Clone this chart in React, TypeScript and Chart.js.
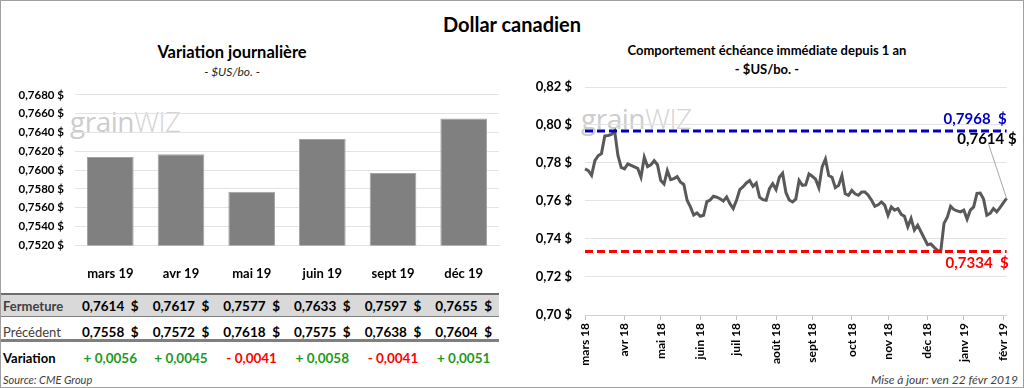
import React, { useEffect, useRef } from 'react';
import { Chart, registerables } from 'chart.js';

Chart.register(...registerables);

const FONT = 'Lato, "Noto Sans", sans-serif';

// ---- Left chart: daily variation by contract ----
const contracts = ['mars 19', 'avr 19', 'mai 19', 'juin 19', 'sept 19', 'déc 19'];
const closes = [0.7614, 0.7617, 0.7577, 0.7633, 0.7597, 0.7655];
const previous = [0.7558, 0.7572, 0.7618, 0.7575, 0.7638, 0.7604];
const barAxisMin = 0.752;
const barAxisMax = 0.768;
const barAxisStep = 0.002;

// ---- Right chart: front month over one year ----
const dailyClose = [
  0.7769, 0.7760, 0.7735, 0.7812, 0.7838, 0.7850, 0.7942, 0.7945, 0.7950, 0.7968,
  0.7840, 0.7777, 0.7769, 0.7795, 0.7788, 0.7780, 0.7772, 0.7725, 0.7830, 0.7781,
  0.7790, 0.7812, 0.7791, 0.7708, 0.7690, 0.7760, 0.7712, 0.7718, 0.7729, 0.7699,
  0.7687, 0.7604, 0.7569, 0.7526, 0.7537, 0.7520, 0.7525, 0.7597, 0.7605, 0.7625,
  0.7620, 0.7612,
  0.7600, 0.7621, 0.7586, 0.7560, 0.7604, 0.7660, 0.7675, 0.7695, 0.7708, 0.7677,
  0.7694, 0.7620, 0.7607, 0.7604, 0.7665, 0.7691, 0.7660, 0.7725, 0.7746, 0.7645,
  0.7605, 0.7595, 0.7610, 0.7708, 0.7682, 0.7685, 0.7742, 0.7730, 0.7715, 0.7670,
  0.7780, 0.7821, 0.7734, 0.7725, 0.7670, 0.7682, 0.7734, 0.7638, 0.7630, 0.7656,
  0.7638, 0.7630,
  0.7647, 0.7647, 0.7630, 0.7604, 0.7572, 0.7580, 0.7595, 0.7578, 0.7525, 0.7569,
  0.7552, 0.7560, 0.7530, 0.7520, 0.7464, 0.7508, 0.7447, 0.7473, 0.7438, 0.7404,
  0.7370, 0.7374, 0.7356, 0.7340, 0.7334, 0.7482, 0.7515, 0.7572, 0.7555, 0.7548,
  0.7543, 0.7552, 0.7505, 0.7552, 0.7569, 0.7640, 0.7642, 0.7610, 0.7525, 0.7535,
  0.7560, 0.7543, 0.7565, 0.7590, 0.7614,
];
const monthLabels = ['mars 18', 'avr 18', 'mai 18', 'juin 18', 'juil 18', 'août 18', 'sept 18', 'oct 18', 'nov 18', 'déc 18', 'janv 19', 'févr 19'];
const monthStartIndex = [0, 12, 23, 35, 46, 58, 69, 81, 92, 104, 115, 127];
const yearHigh = 0.7968;
const yearLow = 0.7334;
const lineAxisMin = 0.70;
const lineAxisMax = 0.82;
const lineAxisStep = 0.02;

const fmt = (v: number, d: number) => v.toFixed(d).replace('.', ',');

function Txt(props: { x: number; y: number; w: number; align?: 'left' | 'center' | 'right'; size: number; weight?: number | string; italic?: boolean; color?: string; children: React.ReactNode }) {
  const { x, y, w, align = 'center', size, weight = 400, italic, color = '#000', children } = props;
  const lh = Math.round(size * 1.4);
  return (
    <div style={{ position: 'absolute', left: x, top: y - lh / 2, width: w, height: lh, lineHeight: lh + 'px', textAlign: align, fontSize: size, fontWeight: weight as any, fontStyle: italic ? 'italic' : 'normal', color, whiteSpace: 'pre' }}>
      {children}
    </div>
  );
}

function Watermark({ x, y }: { x: number; y: number }) {
  return (
    <div style={{ position: 'absolute', left: x, top: y, fontSize: 28, lineHeight: '30px', color: '#cdcdcd', whiteSpace: 'pre', fontFamily: '"Open Sans", sans-serif', letterSpacing: -0.5 }}>
      <span>grain</span>
      <span style={{ fontWeight: 300, color: '#d4d4d4' }}>WIZ</span>
    </div>
  );
}

export default function App() {
  const barRef = useRef<HTMLCanvasElement>(null);
  const lineRef = useRef<HTMLCanvasElement>(null);

  useEffect(() => {
    const barChart = new Chart(barRef.current!, {
      type: 'bar',
      data: {
        labels: contracts,
        datasets: [{
          data: closes,
          backgroundColor: '#808080',
          borderColor: '#a3a3a3',
          borderWidth: 1,
          barPercentage: 0.66,
          categoryPercentage: 1,
        }],
      },
      options: {
        animation: false,
        responsive: false,
        layout: { padding: { top: 10, right: 6, left: 0, bottom: 0 } },
        plugins: { legend: { display: false }, tooltip: { enabled: false } },
        scales: {
          x: {
            grid: { display: false },
            border: { color: '#e3e3e3' },
            ticks: { color: '#000', font: { family: FONT, size: 13, weight: 'bold' }, padding: 13 },
          },
          y: {
            min: barAxisMin,
            max: barAxisMax,
            grid: { color: '#e3e3e3', drawTicks: false },
            border: { display: false },
            ticks: {
              stepSize: barAxisStep,
              padding: 11,
              color: '#000',
              font: { family: FONT, size: 11.5, weight: 'bold' },
              callback: (v: any) => fmt(Number(v), 4) + ' $',
            },
            afterFit: (s: any) => { s.width = 75; },
          },
        },
      },
    });

    const refPlugin = {
      id: 'refLines',
      afterDatasetsDraw(chart: any) {
        const { ctx, chartArea, scales } = chart;
        const y = scales.y;
        const { left, right } = chartArea;
        const yh = y.getPixelForValue(yearHigh);
        const yl = y.getPixelForValue(yearLow);
        ctx.save();
        ctx.lineWidth = 3;
        ctx.setLineDash([8, 4]);
        ctx.strokeStyle = '#0000c0';
        ctx.beginPath(); ctx.moveTo(left, yh); ctx.lineTo(right, yh); ctx.stroke();
        ctx.strokeStyle = '#ff0000';
        ctx.beginPath(); ctx.moveTo(left, yl); ctx.lineTo(right, yl); ctx.stroke();
        ctx.setLineDash([]);
        ctx.font = `bold 15px ${FONT}`;
        ctx.textAlign = 'right';
        ctx.textBaseline = 'middle';
        ctx.fillStyle = '#0000c0';
        ctx.fillText(fmt(yearHigh, 4) + '  $', right, yh - 12);
        ctx.fillStyle = '#ff0000';
        ctx.fillText(fmt(yearLow, 4) + '  $', right + 2, yl + 12);
        const meta = chart.getDatasetMeta(0);
        const last = meta.data[meta.data.length - 1];
        const lastVal = dailyClose[dailyClose.length - 1];
        ctx.fillStyle = '#000';
        ctx.fillText(fmt(lastVal, 4) + ' $', right + 10, yh + 8);
        ctx.strokeStyle = '#a6a6a6';
        ctx.lineWidth = 1;
        ctx.beginPath(); ctx.moveTo(last.x - 18, yh + 13); ctx.lineTo(last.x, last.y); ctx.stroke();
        ctx.restore();
      },
    };

    const labels = dailyClose.map((_, i) => {
      const k = monthStartIndex.indexOf(i);
      return k >= 0 ? monthLabels[k] : '';
    });

    const lineChart = new Chart(lineRef.current!, {
      type: 'line',
      data: {
        labels,
        datasets: [{
          data: dailyClose,
          borderColor: '#595959',
          borderWidth: 3,
          pointRadius: 0,
          tension: 0,
        }],
      },
      options: {
        animation: false,
        responsive: false,
        layout: { padding: { top: 27, right: 14, left: 0, bottom: 0 } },
        plugins: { legend: { display: false }, tooltip: { enabled: false } },
        scales: {
          x: {
            grid: {
              drawOnChartArea: false,
              drawTicks: true,
              tickLength: 5,
              color: (c: any) => (c.tick && c.tick.label ? '#bfbfbf' : 'rgba(0,0,0,0)'),
            },
            border: { color: '#d0d0d0' },
            ticks: {
              autoSkip: false,
              minRotation: 90,
              maxRotation: 90,
              padding: 3,
              color: '#000',
              font: { family: FONT, size: 12, weight: 'bold' },
            },
            afterFit: (s: any) => { s.height = 55; },
          },
          y: {
            min: lineAxisMin,
            max: lineAxisMax,
            grid: { color: '#e3e3e3', drawTicks: false },
            border: { display: false },
            ticks: {
              stepSize: lineAxisStep,
              padding: 13,
              color: '#000',
              font: { family: FONT, size: 13, weight: 'bold' },
              callback: (v: any) => fmt(Number(v), 2) + ' $',
            },
            afterFit: (s: any) => { s.width = 80; },
          },
        },
      },
      plugins: [refPlugin],
    });

    return () => { barChart.destroy(); lineChart.destroy(); };
  }, []);

  const colW = 424 / 6;
  const rowCells = (vals: React.ReactNode[], color: (i: number) => string, weight: number) =>
    vals.map((v, i) => (
      <Txt key={i} x={75 + i * colW} y={0} w={colW} size={13.5} weight={weight} color={color(i)}>{v}</Txt>
    ));

  const variations = closes.map((c, i) => c - previous[i]);

  return (
    <div style={{ position: 'absolute', left: 0, top: 0, width: 1024, height: 388, background: '#fff', overflow: 'hidden', fontFamily: FONT }}>
      <Watermark x={70} y={106} />
      <Watermark x={581} y={103} />

      <Txt x={0} y={24} w={1024} size={20} weight={700}>Dollar canadien</Txt>
      <Txt x={0} y={52} w={464} size={16.5} weight={700}>Variation journalière</Txt>
      <Txt x={0} y={71} w={464} size={12} italic color="#262626">- $US/bo. -</Txt>
      <Txt x={512} y={50} w={510} size={13} weight={700}>Comportement échéance immédiate depuis 1 an</Txt>
      <Txt x={512} y={69} w={510} size={13} weight={700}>- $US/bo. -</Txt>

      <div style={{ position: 'absolute', left: 0, top: 77 }}>
        <canvas ref={barRef} width={505} height={218} style={{ display: 'block', width: 505, height: 218 }} />
      </div>
      <div style={{ position: 'absolute', left: 505, top: 60 }}>
        <canvas ref={lineRef} width={519} height={310} style={{ display: 'block', width: 519, height: 310 }} />
      </div>

      {/* table */}
      <div style={{ position: 'absolute', left: 0, top: 293, width: 499, height: 24, background: '#d9d9d9', borderTop: '2px solid #6e6e6e', borderBottom: '1px solid #7f7f7f', boxSizing: 'border-box' }} />
      <div style={{ position: 'absolute', left: 0, top: 339, width: 499, height: 3, background: '#7f7f7f' }} />
      <div style={{ position: 'absolute', left: 0, top: 306, width: 499 }}>
        <Txt x={3} y={0} w={80} align="left" size={13} weight={700} color="#404040">Fermeture</Txt>
        {rowCells(closes.map((c) => fmt(c, 4) + '  $'), () => '#000', 700)}
      </div>
      <div style={{ position: 'absolute', left: 0, top: 332, width: 499 }}>
        <Txt x={3} y={0} w={80} align="left" size={13} weight={400} color="#404040">Précédent</Txt>
        {rowCells(previous.map((c) => fmt(c, 4) + '  $'), () => '#000', 700)}
      </div>
      <div style={{ position: 'absolute', left: 0, top: 358, width: 499 }}>
        <Txt x={3} y={0} w={80} align="left" size={13} weight={700} color="#000">Variation</Txt>
        {rowCells(
          variations.map((d) => (d >= 0 ? '+ ' : '- ') + fmt(Math.abs(d), 4)),
          (i) => (variations[i] >= 0 ? '#1e9a1e' : '#ff0000'),
          700,
        )}
      </div>

      <Txt x={3} y={379} w={200} align="left" size={11} italic color="#404040">Source: CME Group</Txt>
      <Txt x={700} y={379} w={318} align="right" size={12} italic color="#404040">Mise à jour: ven 22 févr 2019</Txt>

      <div style={{ position: 'absolute', left: 0, top: 0, width: 1024, height: 388, border: '1px solid #a0a0a0', boxSizing: 'border-box', pointerEvents: 'none' }} />
    </div>
  );
}
